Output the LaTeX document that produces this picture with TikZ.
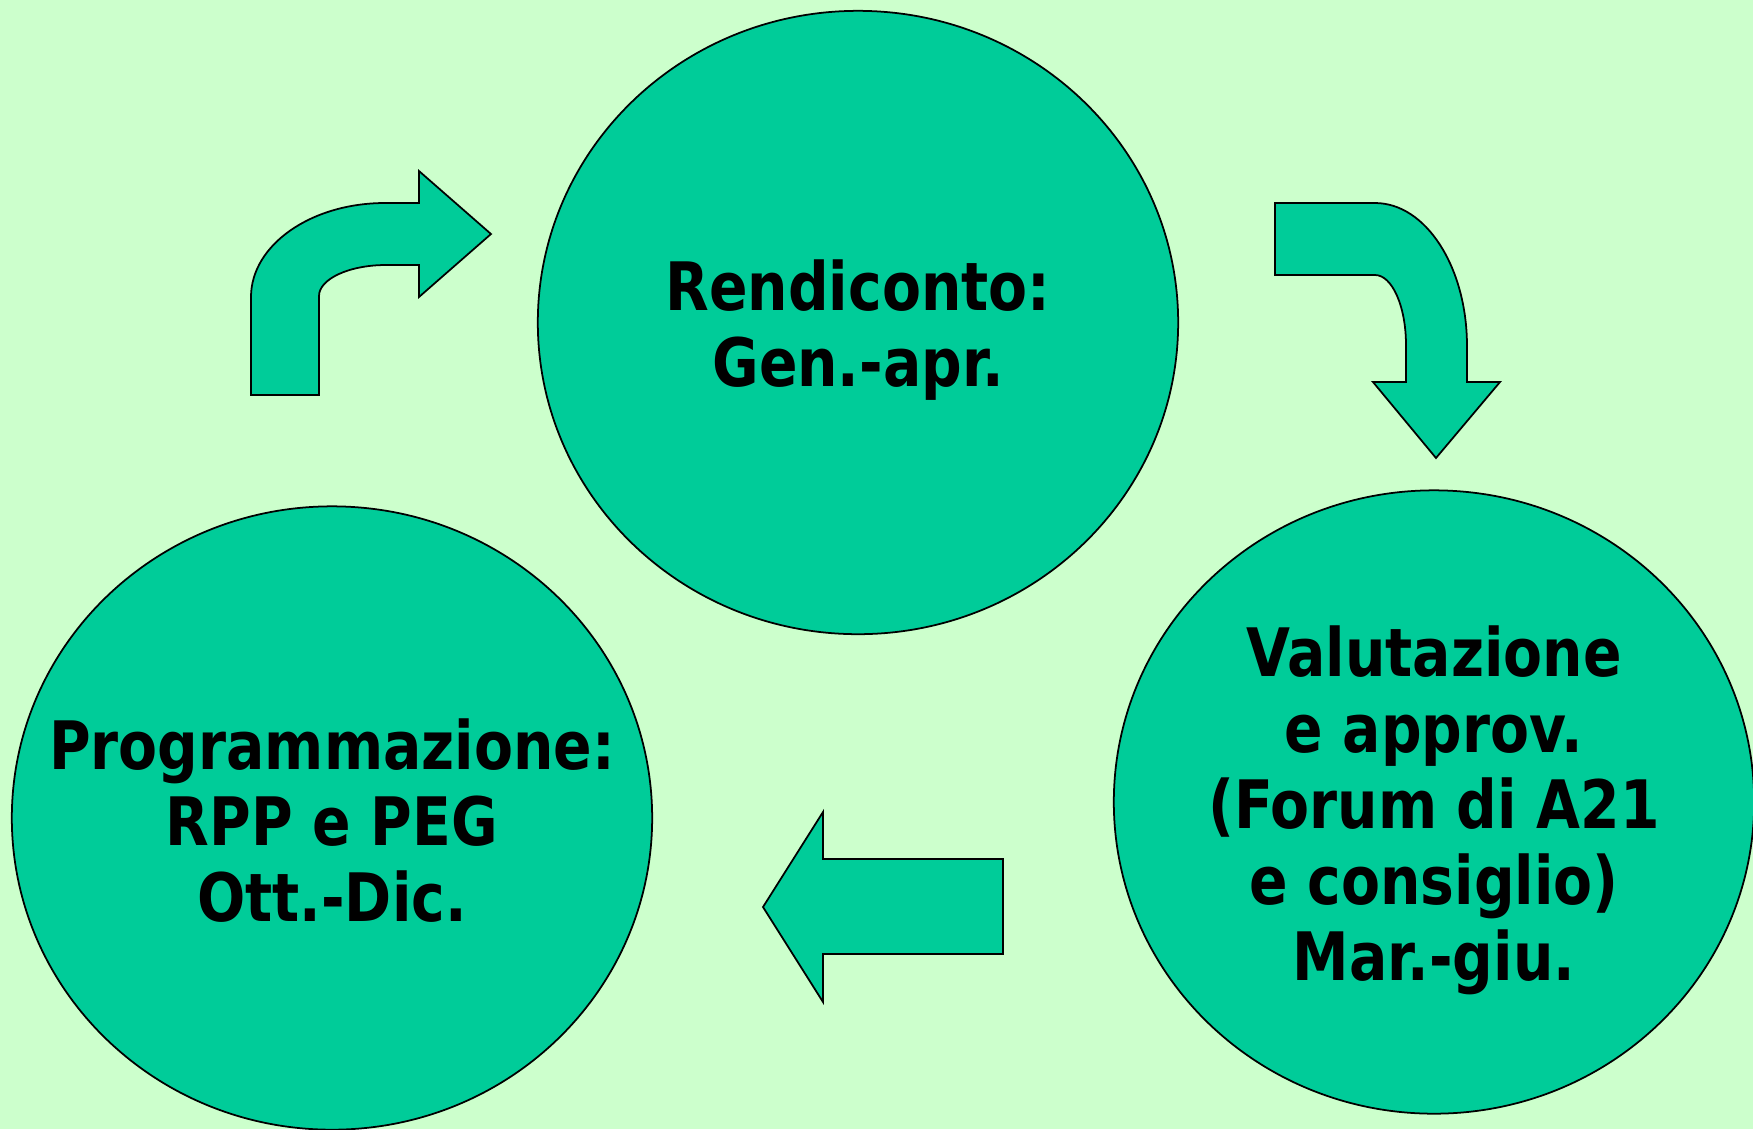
\documentclass[tikz,border=0pt]{standalone}
\usepackage{fontspec}
\newfontfamily\tah{DejaVu Sans}[FakeStretch=0.85]
\usetikzlibrary{shapes.geometric}
\definecolor{bg}{HTML}{CCFFCC}
\definecolor{fillg}{HTML}{00CC99}
\tikzset{
  phase/.style={ellipse, draw=black, line width=0.5pt, fill=fillg, inner sep=0pt,
    minimum width=6.4cm, minimum height=6.23cm},
  phasetext/.style={inner sep=0pt, align=center,
    font=\tah\bfseries\fontsize{19}{21.6}\selectfont},
  bigarrow/.style={draw=black, line width=0.5pt, fill=fillg, line join=miter}
}
\begin{document}
\begin{tikzpicture}[x=0.01cm, y=-0.01cm]
\fill[bg] (0,0) rectangle (1753,1129);
\useasboundingbox (0,0) rectangle (1753,1129);
\node[phase] (rend) at (858,322.5) {};
\node[phase] (prog) at (332,818) {};
\node[phase] (valu) at (1434,802) {};
\node[phasetext] (rendt) at ([yshift=-0.08cm]rend.center) {Rendiconto:\\Gen.-apr.};
\node[phasetext] (progt) at ([yshift=-0.03cm]prog.center) {Programmazione:\\RPP e PEG\\Ott.-Dic.};
\node[phasetext] (valut) at ([yshift=-0.08cm]valu.center) {Valutazione\\e approv.\\(Forum di A21\\e consiglio)\\Mar.-giu.};
% curved arrow top-left
\draw[bigarrow] (251,395) -- (251,297) .. controls (251,245) and (311,203) .. (385,203)
  -- (419,203) -- (419,171) -- (491,234) -- (419,297) -- (419,265) -- (386,265)
  .. controls (349,265) and (319,279) .. (319,296) -- (319,395) -- cycle;
% curved arrow top-right
\draw[bigarrow] (1275,203) -- (1375,203) .. controls (1425.8,203) and (1467,267) .. (1467,346)
  -- (1467,382) -- (1500,382) -- (1436,458) -- (1373,382) -- (1406,382) -- (1406,345)
  .. controls (1406,306.3) and (1392.1,275) .. (1375,275) -- (1275,275) -- cycle;
% left arrow bottom
\draw[bigarrow] (1003,859) -- (823,859) -- (823,812) -- (763,907) -- (823,1002)
  -- (823,954) -- (1003,954) -- cycle;
\end{tikzpicture}
\end{document}
